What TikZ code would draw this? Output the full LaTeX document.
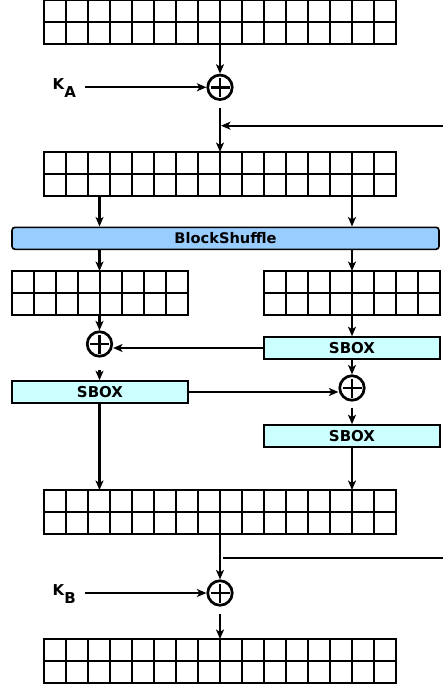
\documentclass[tikz,border=0pt]{standalone}
\usepackage{fontspec}
\setmainfont{DejaVu Sans}
\usetikzlibrary{arrows.meta,calc}
\definecolor{shufcol}{HTML}{99CCFF}
\definecolor{sboxcol}{HTML}{CCFFFF}
\newcommand\mkgrid[4]{%
  \node[gridbox, minimum width=#4*22pt, anchor=north west] (#1) at (#2,#3) {};
  \pgfmathtruncatemacro\lastcol{#4-1}%
  \foreach \i in {1,...,\lastcol}
    \draw[gridline] ($(#1.north west)+(\i*22,0)$) -- ($(#1.south west)+(\i*22,0)$);
  \draw[gridline] (#1.west) -- (#1.east);
}
\begin{document}
\begin{tikzpicture}[x=1pt,y=-1pt,
  gridline/.style={line width=1.6pt},
  gridbox/.style={draw, line width=1.6pt, minimum height=44pt, inner sep=0pt, outer sep=0pt},
  arr/.style={line width=2.1pt, -{Stealth[length=9.5pt,width=8pt,inset=2.5pt]}},
  plainline/.style={line width=2.1pt},
  xorop/.style={circle, draw, line width=2.7pt, minimum size=24.5pt, inner sep=0pt,
    path picture={
      \draw[line width=2.8pt] ([xshift=-9.5pt]path picture bounding box.center) -- ([xshift=9.5pt]path picture bounding box.center);
      \draw[line width=2.8pt] ([yshift=-9.5pt]path picture bounding box.center) -- ([yshift=9.5pt]path picture bounding box.center);
    }},
  sboxbox/.style={draw, line width=1.6pt, fill=sboxcol, minimum width=176pt, minimum height=22pt, inner sep=0pt,
    font=\fontsize{15}{15}\selectfont\bfseries},
  shufbox/.style={draw, line width=1.6pt, fill=shufcol, rounded corners=3pt, minimum width=427pt, minimum height=22pt, inner sep=0pt,
    font=\fontsize{14.6}{14.6}\selectfont\bfseries},
  keylabel/.style={inner sep=0pt, anchor=base west, font=\fontsize{15}{15}\selectfont\bfseries}
]
\useasboundingbox (0,0) rectangle (443,687);

% grids
\mkgrid{g1}{44}{0}{16}
\mkgrid{g2}{44}{152}{16}
\mkgrid{gl}{12}{271}{8}
\mkgrid{gr}{264}{271}{8}
\mkgrid{g3}{44}{490}{16}
\mkgrid{g4}{44}{639}{16}

\coordinate (L) at (99.5,0);
\coordinate (R) at (352,0);

% operators and boxes
\node[xorop] (xA) at (220,87.3) {};
\node[xorop] (xL) at (99.5,344) {};
\node[xorop] (xR) at (352,388) {};
\node[xorop] (xB) at (220,593) {};

\node[shufbox] (bs) at (225.5,238.3) {BlockShuffle};
\node[sboxbox] (sb1) at (352,348) {SBOX};
\node[sboxbox] (sb2) at (100,392) {SBOX};
\node[sboxbox] (sb3) at (352,436) {SBOX};

\node[keylabel] (kA) at (52.5,89.3) {K\lower8pt\hbox{A}};
\node[keylabel] (kB) at (52.5,595) {K\lower8pt\hbox{B}};

\coordinate (fbA) at (443,125.7);
\coordinate (fbB) at (443,558.3);

% connectors
\draw[arr] (g1.south -| xA) -- (xA);
\draw[arr, shorten <=9pt] (kA.east |- xA) -- (xA.west);
\draw[arr, shorten <=7pt] (xA.south) -- (g2.north -| xA);
\draw[arr, shorten >=1pt] (fbA) -- (fbA -| xA);

\draw[arr] (g2.south -| L) -- (bs.north -| L);
\draw[arr] (g2.south -| R) -- (bs.north -| R);
\draw[arr] (bs.south -| L) -- (gl.north -| L);
\draw[arr] (bs.south -| R) -- (gr.north -| R);

\draw[arr] (gl.south -| L) -- (xL);
\draw[arr] (gr.south -| R) -- (sb1.north -| R);
\draw[arr] (sb1.west) -- (sb1.west -| xL.east);
\draw[arr] (sb1.south -| R) -- (xR);
\draw[arr, shorten <=12pt] (xL.south) -- (sb2.north -| xL);
\draw[arr] (sb2.east) -- (sb2.east -| xR.west);
\draw[arr, shorten <=6pt] (xR.south) -- (sb3.north -| xR);
\draw[arr] (sb2.south -| L) -- (g3.north -| L);
\draw[arr] (sb3.south -| R) -- (g3.north -| R);

\draw[arr] (g3.south -| xB) -- (xB);
\draw[plainline, shorten >=2.5pt] (fbB) -- (fbB -| xB);
\draw[arr, shorten <=9pt] (kB.east |- xB) -- (xB.west);
\draw[arr, shorten <=7pt] (xB.south) -- (g4.north -| xB);
\end{tikzpicture}
\end{document}
